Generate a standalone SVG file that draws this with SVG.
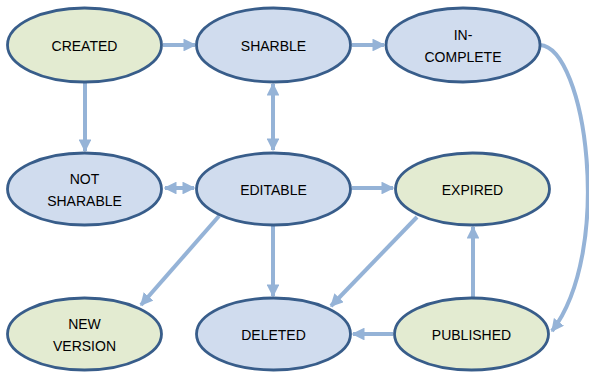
<svg xmlns="http://www.w3.org/2000/svg" width="589" height="375" viewBox="0 0 589 375">
<defs>
<style>
.n ellipse{stroke:#385D8A;stroke-width:2.8}
.b{fill:#D0DCEE}
.g{fill:#E3EBD1}
text{font-family:"Liberation Sans",Arial,sans-serif;font-size:14px;fill:#000;text-anchor:middle}
.e{stroke:#95B3D7;stroke-width:4;fill:none}
</style>
<marker id="ah" viewBox="0 0 10 10" refX="9" refY="5" markerWidth="3.2" markerHeight="3.2" orient="auto-start-reverse" markerUnits="strokeWidth">
<path d="M0,0 L10,5 L0,10 z" fill="#95B3D7"/>
</marker>
</defs>
<rect width="589" height="375" fill="#fff"/>
<g id="connectors">
<line class="e" x1="163" y1="45" x2="195" y2="45" marker-end="url(#ah)"/>
<line class="e" x1="352" y1="45" x2="384" y2="45" marker-end="url(#ah)"/>
<line class="e" x1="85" y1="82" x2="85" y2="151" marker-end="url(#ah)"/>
<line class="e" x1="273" y1="84" x2="273" y2="150" marker-start="url(#ah)" marker-end="url(#ah)"/>
<line class="e" x1="165" y1="188" x2="194" y2="188" marker-start="url(#ah)" marker-end="url(#ah)"/>
<line class="e" x1="352" y1="188" x2="393" y2="188" marker-end="url(#ah)"/>
<path class="e" d="M540,45 C586,48 614,250 552,331" marker-end="url(#ah)"/>
<line class="e" x1="219" y1="216" x2="141" y2="305" marker-end="url(#ah)"/>
<line class="e" x1="273" y1="226" x2="273" y2="296" marker-end="url(#ah)"/>
<line class="e" x1="417" y1="217" x2="331" y2="306" marker-end="url(#ah)"/>
<line class="e" x1="473" y1="297" x2="473" y2="227" marker-end="url(#ah)"/>
<line class="e" x1="393" y1="334" x2="353" y2="334" marker-end="url(#ah)"/>
</g>
<g id="created" class="n"><ellipse class="g" cx="84.5" cy="45" rx="77" ry="37"/><text x="84.5" y="51">CREATED</text></g>
<g id="sharble" class="n"><ellipse class="b" cx="273.5" cy="45" rx="77" ry="37"/><text x="273.5" y="51">SHARBLE</text></g>
<g id="incomplete" class="n"><ellipse class="b" cx="463" cy="45" rx="77" ry="37"/><text x="463" y="40">IN-</text><text x="463" y="62">COMPLETE</text></g>
<g id="notsharable" class="n"><ellipse class="b" cx="84.5" cy="189" rx="77" ry="36"/><text x="84.5" y="184">NOT</text><text x="84.5" y="206">SHARABLE</text></g>
<g id="editable" class="n"><ellipse class="b" cx="273.5" cy="189" rx="77" ry="36"/><text x="273.5" y="195">EDITABLE</text></g>
<g id="expired" class="n"><ellipse class="g" cx="472.5" cy="189" rx="77" ry="36"/><text x="472.5" y="195">EXPIRED</text></g>
<g id="newversion" class="n"><ellipse class="g" cx="84.5" cy="334" rx="77" ry="36"/><text x="84.5" y="329">NEW</text><text x="84.5" y="351">VERSION</text></g>
<g id="deleted" class="n"><ellipse class="b" cx="273.5" cy="334" rx="77" ry="36"/><text x="273.5" y="340">DELETED</text></g>
<g id="published" class="n"><ellipse class="g" cx="471.5" cy="334" rx="77" ry="36"/><text x="471.5" y="340">PUBLISHED</text></g>
</svg>
